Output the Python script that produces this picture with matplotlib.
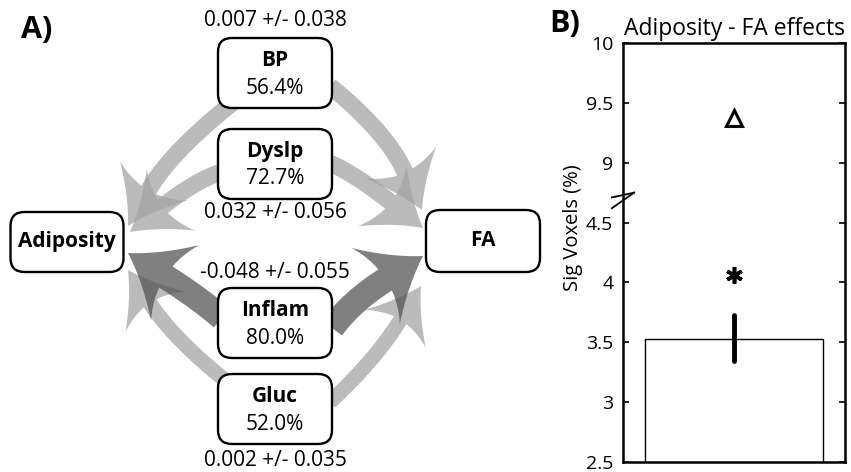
"""Mediation diagram (A) and adiposity-FA effect bar (B)."""
import numpy as np
import matplotlib
matplotlib.use("Agg")
import matplotlib.pyplot as plt
from matplotlib.patches import FancyBboxPatch, Polygon

plt.rcParams["font.family"] = ["Open Sans", "DejaVu Sans"]

# ---- data ----
mediators = ["BP", "Dyslp", "Inflam", "Gluc"]
mediation_pct = [56.4, 72.7, 80.0, 52.0]
effect_mean = [0.007, 0.032, -0.048, 0.002]
effect_sd = [0.038, 0.056, 0.055, 0.035]

bar_value = 3.53
bar_err_low = 3.34
bar_err_high = 3.73
star_value = 4.06
triangle_value = 9.37
yticks_b = [2.5, 3, 3.5, 4, 4.5, 9, 9.5, 10]

# ---- layout for panel A (pixel coords, y down) ----
LIGHT, DARK = "#a4a4a4", "#555555"
BOX_W, BOX_H = 114, 70
centers = {"BP": (275, 73), "Dyslp": (275, 164), "Inflam": (275, 323), "Gluc": (275, 409)}
label_y = {"BP": 20, "Dyslp": 213, "Inflam": 272, "Gluc": 461}
# (start, tip, head direction, shaft width, head length, head width, colour)
arrows = [
    ((236, 100), (128, 226), (-0.50, 0.87), 17, 52, 78, LIGHT),
    ((222, 172), (130, 232), (-0.79, 0.62), 17, 52, 78, LIGHT),
    ((230, 384), (128, 270), (-0.55, -0.83), 15, 50, 72, LIGHT),
    ((222, 318), (128, 253), (-0.85, -0.54), 25, 56, 90, DARK),
    ((330, 86), (422, 210), (0.41, 0.91), 17, 52, 78, LIGHT),
    ((330, 163), (423, 228), (0.78, 0.62), 17, 52, 78, LIGHT),
    ((330, 402), (421, 286), (0.52, -0.85), 15, 50, 72, LIGHT),
    ((332, 328), (423, 256), (0.85, -0.54), 25, 56, 90, DARK),
]

fig = plt.figure(figsize=(8.51, 4.72), dpi=100)
ax = fig.add_axes([0, 0, 1, 1])
ax.set_xlim(0, 851); ax.set_ylim(472, 0)
ax.axis("off")


def quad(p0, p1, p2, t):
    t = np.asarray(t)[:, None]
    return (1 - t) ** 2 * p0 + 2 * (1 - t) * t * p1 + t ** 2 * p2


def fat_arrow(S, T, d, w, hl, hw, color, reach=85):
    S, T, d = map(np.asarray, (S, T, d))
    d = d / np.linalg.norm(d)
    n = np.array([-d[1], d[0]])
    C = T - d * reach
    N = T - d * hl * 0.8          # where the shaft joins the head
    base = T - d * hl
    t = np.linspace(0, 1, 40)
    pts = quad(S, C, N, t)
    tan = np.gradient(pts, axis=0)
    tan /= np.linalg.norm(tan, axis=1)[:, None]
    nrm = np.column_stack([-tan[:, 1], tan[:, 0]])
    left = pts + nrm * w / 2
    right = pts - nrm * w / 2
    b1 = base + n * hw / 2
    b2 = base - n * hw / 2
    s = np.linspace(0, 1, 20)
    back1 = quad(left[-1], (left[-1] + b1) / 2 + d * hl * 0.06, b1, s)
    side1 = quad(b1, (b1 + T) / 2 - n * hw * 0.07, T, s)
    side2 = quad(T, (b2 + T) / 2 + n * hw * 0.07, b2, s)
    back2 = quad(b2, (right[-1] + b2) / 2 + d * hl * 0.06, right[-1], s)
    poly = np.vstack([left, back1, side1, side2, back2, right[::-1]])
    ax.add_patch(Polygon(poly, closed=True, facecolor=color, edgecolor="none",
                         alpha=0.75, zorder=1))


for S, T, d, w, hl, hw, col in arrows:
    fat_arrow(S, T, d, w, hl, hw, col)


def box(cx, cy, w, h, zorder=3):
    ax.add_patch(FancyBboxPatch((cx - w / 2, cy - h / 2), w, h,
                                boxstyle="round,pad=0,rounding_size=14",
                                linewidth=1.7, edgecolor="black", facecolor="white",
                                zorder=zorder))


FS = 15
for name, pct, m, sd in zip(mediators, mediation_pct, effect_mean, effect_sd):
    cx, cy = centers[name]
    box(cx, cy, BOX_W, BOX_H)
    ax.text(cx, cy - 13, name, ha="center", va="center", fontsize=FS,
            fontweight="bold", zorder=4)
    ax.text(cx, cy + 15, f"{pct:.1f}%", ha="center", va="center", fontsize=FS, zorder=4)
    ax.text(cx, label_y[name], f"{m:.3f} +/- {sd:.3f}", ha="center", va="center",
            fontsize=FS, zorder=4)

box(67, 242, 113, 60)
ax.text(67, 242, "Adiposity", ha="center", va="center", fontsize=FS,
        fontweight="bold", zorder=4)
box(483, 241, 114, 62)
ax.text(483, 241, "FA", ha="center", va="center", fontsize=FS,
        fontweight="bold", zorder=4)

ax.text(21, 30, "A)", ha="left", va="center", fontsize=22, fontweight="bold")
ax.text(549, 24, "B)", ha="left", va="center", fontsize=22, fontweight="bold")

# ---- panel B ----
def fwd(v):
    v = np.asarray(v, dtype=float)
    return np.where(v <= 4.75, v, np.where(v >= 8.75, v - 4.0, 4.75))


def inv(u):
    u = np.asarray(u, dtype=float)
    return np.where(u <= 4.75, u, u + 4.0)


bx = fig.add_axes([623 / 851, 10 / 472, 222 / 851, 419 / 472])
bx.set_yscale("function", functions=(fwd, inv))
bx.set_xlim(0.5, 1.5)
bx.set_ylim(2.5, 10)
bx.bar([1], [bar_value], width=0.8, color="white", edgecolor="black", linewidth=1.0)
bx.plot([1, 1], [bar_err_low, bar_err_high], color="black", lw=3.5,
        solid_capstyle="round")
bx.plot([1], [star_value], marker=(6, 2, 0), color="black", ms=12, mew=2.6)
bx.plot([1], [triangle_value], marker="^", mfc="white", mec="black", ms=12, mew=2.2)
bx.set_yticks(yticks_b)
bx.set_yticklabels([f"{v:g}" for v in yticks_b])
bx.set_xticks([])
bx.tick_params(axis="y", direction="in", left=True, right=True, length=4,
               width=1.2, labelsize=14, pad=7)
for sp in bx.spines.values():
    sp.set_linewidth(1.8)
bx.set_ylabel("Sig Voxels (%)", fontsize=14.5)
bx.yaxis.set_label_coords(-0.18, 0.56)
bx.set_title("Adiposity - FA effects", fontsize=16.5, pad=6)

yt = bx.get_yaxis_transform()
for off in (0.0, 0.09):
    bx.plot([-0.05, 0.05], [4.62 + off, 4.80 + off], color="black", lw=1.3,
            transform=yt, clip_on=False)

fig.savefig("out.png", dpi=100, facecolor="white")
